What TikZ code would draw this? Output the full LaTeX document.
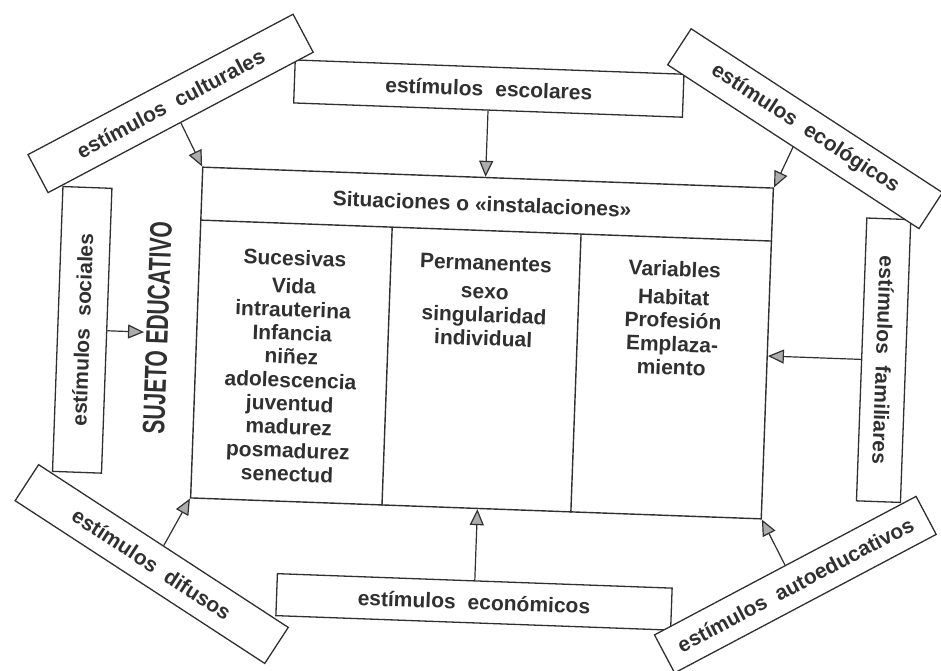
\documentclass[tikz,border=0pt]{standalone}
\usepackage{fontspec}
\setmainfont{Liberation Sans}
\usetikzlibrary{arrows.meta}
\definecolor{ink}{HTML}{303030}

\begin{document}
\begin{tikzpicture}[x=1pt, y=1pt,
  stim/.style={draw=ink, line width=1.3pt, fill=white, text=ink, inner sep=0pt, minimum height=43pt, font={\fontsize{21}{21}\selectfont\bfseries\spaceskip=12pt\relax}},
  cell/.style={text=ink, inner sep=0pt, align=center, anchor=north, font=\fontsize{21}{23.5}\selectfont\bfseries},
  arr/.style={draw=ink, line width=1.2pt, -{Triangle[length=16pt, width=14pt, fill=gray!65]}}]
\path[use as bounding box, fill=white] (-482,-327) rectangle (459,343);
\begin{scope}[rotate=-2.1, transform shape]
\node[draw=ink, line width=1.4pt, minimum width=571pt, minimum height=331pt] (main) at (0,0) {};
\coordinate (rowW) at (main.west |- 0,112.5);
\coordinate (rowE) at (main.east |- 0,112.5);
\draw[draw=ink, line width=1.4pt] (rowW) -- (rowE);
\draw[draw=ink, line width=1.4pt] (-94,112.5) -- (-94,112.5 |- main.south);
\draw[draw=ink, line width=1.4pt] (95,112.5) -- (95,112.5 |- main.south);

\node[text=ink, font=\fontsize{21}{21}\selectfont\bfseries] (situ) at (-5,139) {Situaciones o «instalaciones»};
\node[cell] (suc) at (-190,86) {Sucesivas\\[4.5pt]Vida\\intrauterina\\Infancia\\niñez\\adolescencia\\juventud\\madurez\\posmadurez\\senectud};
\node[cell] (per) at (1,87.5) {Permanentes\\[5pt]sexo\\singularidad\\individual};
\node[cell] (var) at (190,89) {Variables\\[4.5pt]Habitat\\Profesión\\Emplaza-\\miento};
\node[rotate=90, text=ink, inner sep=2pt] (sujeto) at (-325,3) {\scalebox{0.68}[1]{\fontsize{31}{31}\selectfont\bfseries SUJETO EDUCATIVO}};

\node[stim, minimum width=389pt] (esc) at (-2.5,254.5) {estímulos escolares};
\node[stim, minimum width=395pt, minimum height=42pt] (eco) at (1.5,-259) {estímulos económicos};
\node[stim, rotate=90, minimum width=285pt, minimum height=49pt] (soc) at (-400,-1.5) {estímulos sociales};
\node[stim, rotate=-90, minimum width=283pt, minimum height=44pt] (fam) at (402,-2.5) {estímulos familiares};
\node[stim, rotate=30, minimum width=300pt] (cul) at (-320,228) {estímulos culturales};
\node[stim, rotate=-31, minimum width=300pt] (ecl) at (315,226) {estímulos ecológicos};
\node[stim, rotate=-31, minimum width=298pt] (dif) at (-322,-233) {estímulos difusos};
\node[stim, rotate=30, minimum width=296pt] (aut) at (322,-230) {estímulos autoeducativos};

\draw[arr] (esc.south) -- (esc.south |- main.north);
\draw[arr] (eco.north) -- (eco.north |- main.south);
\draw[arr] (soc.south) -- (soc.south -| sujeto.north);
\draw[arr] (fam.south) -- (fam.south -| main.east);
\draw[arr] (cul.south) -- (main.north west);
\draw[arr] (ecl.south) -- (main.north east);
\draw[arr] (dif.north) -- (main.south west);
\draw[arr] (aut.north) -- (main.south east);
\end{scope}
\end{tikzpicture}
\end{document}
